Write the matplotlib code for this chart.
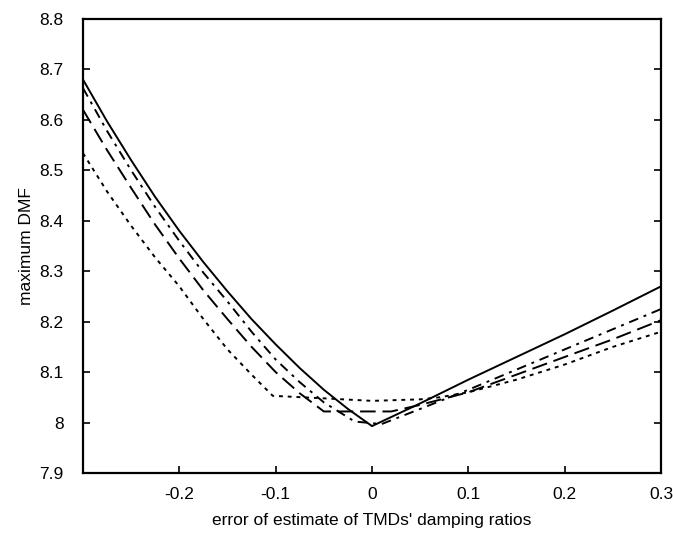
import matplotlib
matplotlib.use('agg')
import matplotlib.pyplot as plt

plt.rcParams['font.family'] = ['Liberation Sans Narrow', 'Liberation Sans', 'DejaVu Sans']

# error of estimate -> maximum DMF
err_solid = [-0.3, -0.275, -0.25, -0.225, -0.2, -0.175, -0.15, -0.125, -0.1, -0.075, -0.05, -0.025, 0.0,
             0.05, 0.1, 0.15, 0.2, 0.25, 0.3]
dmf_solid = [8.68, 8.597, 8.52, 8.447, 8.38, 8.318, 8.26, 8.205, 8.155, 8.108, 8.065, 8.027, 7.993,
             8.038, 8.085, 8.13, 8.175, 8.222, 8.27]

err_dashdot = [-0.3, -0.275, -0.25, -0.225, -0.2, -0.175, -0.15, -0.125, -0.1, -0.075, -0.05, -0.018, 0.01,
               0.05, 0.1, 0.15, 0.2, 0.25, 0.3]
dmf_dashdot = [8.663, 8.578, 8.50, 8.427, 8.36, 8.297, 8.24, 8.18, 8.125, 8.08, 8.04, 8.002, 7.997,
               8.027, 8.065, 8.105, 8.145, 8.185, 8.225]

err_dash = [-0.3, -0.275, -0.25, -0.225, -0.2, -0.175, -0.15, -0.125, -0.1, -0.075, -0.05, 0.02,
            0.05, 0.1, 0.15, 0.2, 0.25, 0.3]
dmf_dash = [8.62, 8.54, 8.465, 8.392, 8.325, 8.262, 8.205, 8.15, 8.10, 8.058, 8.022, 8.022,
            8.035, 8.06, 8.095, 8.13, 8.165, 8.203]

err_dot = [-0.3, -0.275, -0.25, -0.225, -0.2, -0.175, -0.15, -0.125, -0.103, -0.05, 0.0, 0.05, 0.07,
           0.1, 0.15, 0.2, 0.25, 0.3]
dmf_dot = [8.534, 8.458, 8.39, 8.327, 8.27, 8.205, 8.145, 8.095, 8.053, 8.048, 8.043, 8.046, 8.05,
           8.06, 8.085, 8.115, 8.15, 8.18]

x_ticks = [-0.2, -0.1, 0, 0.1, 0.2, 0.3]
x_labels = ['-0.2', '-0.1', '0', '0.1', '0.2', '0.3']
y_ticks = [7.9, 8.0, 8.1, 8.2, 8.3, 8.4, 8.5, 8.6, 8.7, 8.8]
y_labels = ['7.9', '8', '8.1', '8.2', '8.3', '8.4', '8.5', '8.6', '8.7', '8.8']

fig = plt.figure(figsize=(6.73, 5.41), dpi=100)
ax = fig.add_axes([0.1233, 0.1257, 0.8589, 0.8392])

lw = 1.4
ax.plot(err_solid, dmf_solid, color='black', lw=lw, linestyle='-')
ax.plot(err_dashdot, dmf_dashdot, color='black', lw=lw, linestyle=(0, (5, 3, 1.5, 3)))
ax.plot(err_dash, dmf_dash, color='black', lw=lw, linestyle=(0, (8, 3.5)))
ax.plot(err_dot, dmf_dot, color='black', lw=lw, linestyle=(0, (2, 2.5)))

ax.set_xlim(-0.3, 0.3)
ax.set_ylim(7.9, 8.8)
ax.set_xticks(x_ticks)
ax.set_xticklabels(x_labels)
ax.set_yticks(y_ticks)
ax.set_yticklabels(y_labels)

for s in ax.spines.values():
    s.set_linewidth(1.6)

ax.tick_params(direction='in', length=5, width=1.2, labelsize=12.5, right=True, top=False, pad=10)
ax.tick_params(axis='y', pad=14)

ax.set_xlabel("error of estimate of TMDs' damping ratios", fontsize=12.5, labelpad=8)
ax.set_ylabel('maximum DMF', fontsize=12.5, labelpad=4)

fig.savefig('out.png', dpi=100)
